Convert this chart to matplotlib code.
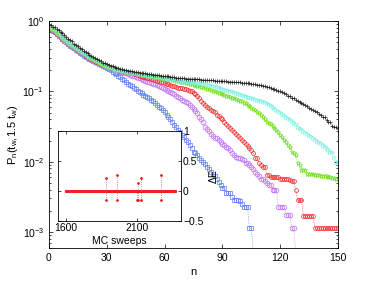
import numpy as np
import matplotlib
matplotlib.use("Agg")
import matplotlib.pyplot as plt

plt.rcParams['font.family'] = ['Liberation Sans', 'DejaVu Sans']
plt.rcParams['mathtext.fontset'] = 'custom'
plt.rcParams['mathtext.rm'] = 'Liberation Sans'
plt.rcParams['mathtext.it'] = 'Liberation Sans'

# -- main panel data: log10 P_n, one value per n = 0, 1, 2, ... -- #
log_black = [
    -0.05, -0.06, -0.08, -0.09, -0.11, -0.12,
    -0.15, -0.17, -0.20, -0.22, -0.25,
    -0.27, -0.29, -0.32, -0.34, -0.36,
    -0.38, -0.40, -0.42, -0.44, -0.46,
    -0.48, -0.49, -0.51, -0.53, -0.545,
    -0.56, -0.57, -0.59, -0.60, -0.615,
    -0.625, -0.635, -0.645, -0.655, -0.665,
    -0.672, -0.68, -0.687, -0.694, -0.70,
    -0.705, -0.71, -0.715, -0.72, -0.725,
    -0.73, -0.733, -0.737, -0.741, -0.745,
    -0.749, -0.753, -0.757, -0.761, -0.765,
    -0.769, -0.772, -0.775, -0.778, -0.78,
    -0.784, -0.788, -0.792, -0.796, -0.80,
    -0.803, -0.806, -0.809, -0.812, -0.815,
    -0.817, -0.819, -0.821, -0.823, -0.825,
    -0.827, -0.829, -0.831, -0.833, -0.835,
    -0.837, -0.839, -0.841, -0.843, -0.845,
    -0.847, -0.849, -0.851, -0.853, -0.855,
    -0.857, -0.859, -0.861, -0.863, -0.865,
    -0.867, -0.869, -0.871, -0.873, -0.875,
    -0.878, -0.88, -0.883, -0.886, -0.89,
    -0.895, -0.90, -0.905, -0.91, -0.915,
    -0.92, -0.93, -0.935, -0.94, -0.95,
    -0.96, -0.97, -0.98, -0.99, -1.0,
    -1.01, -1.03, -1.04, -1.06, -1.07,
    -1.09, -1.10, -1.12, -1.13, -1.15,
    -1.17, -1.18, -1.20, -1.21, -1.23,
    -1.25, -1.27, -1.28, -1.30, -1.32,
    -1.34, -1.37, -1.37, -1.41, -1.44,
    -1.44, -1.49, -1.51, -1.51, -1.56,
]

log_cyan = [
    -0.07, -0.09, -0.11, -0.13, -0.15, -0.18,
    -0.20, -0.23, -0.25, -0.28, -0.30,
    -0.32, -0.34, -0.36, -0.38, -0.40,
    -0.42, -0.44, -0.46, -0.475, -0.49,
    -0.505, -0.52, -0.535, -0.55, -0.565,
    -0.58, -0.595, -0.61, -0.625, -0.64,
    -0.65, -0.66, -0.67, -0.68, -0.69,
    -0.697, -0.703, -0.71, -0.715, -0.72,
    -0.725, -0.73, -0.735, -0.74, -0.745,
    -0.75, -0.755, -0.76, -0.765, -0.77,
    -0.774, -0.778, -0.782, -0.786, -0.79,
    -0.794, -0.798, -0.802, -0.806, -0.81,
    -0.814, -0.818, -0.822, -0.826, -0.83,
    -0.834, -0.838, -0.842, -0.846, -0.85,
    -0.854, -0.858, -0.862, -0.866, -0.87,
    -0.874, -0.878, -0.882, -0.886, -0.89,
    -0.896, -0.902, -0.908, -0.914, -0.92,
    -0.928, -0.936, -0.944, -0.952, -0.96,
    -0.968, -0.976, -0.984, -0.992, -1.0,
    -1.01, -1.02, -1.03, -1.04, -1.05,
    -1.058, -1.066, -1.074, -1.082, -1.09,
    -1.10, -1.11, -1.12, -1.125, -1.13,
    -1.14, -1.155, -1.17, -1.185, -1.20,
    -1.22, -1.24, -1.26, -1.28, -1.30,
    -1.32, -1.34, -1.36, -1.38, -1.40,
    -1.42, -1.45, -1.47, -1.50, -1.52,
    -1.54, -1.56, -1.58, -1.60, -1.62,
    -1.64, -1.66, -1.68, -1.70, -1.72,
    -1.74, -1.76, -1.78, -1.80, -1.83,
    -1.86, -1.86, -1.93, -2.0, -2.0,
]

log_green = [
    -0.08, -0.10, -0.12, -0.14, -0.16, -0.19,
    -0.21, -0.24, -0.26, -0.29, -0.31,
    -0.33, -0.35, -0.37, -0.39, -0.41,
    -0.43, -0.45, -0.465, -0.48, -0.50,
    -0.515, -0.53, -0.545, -0.56, -0.575,
    -0.59, -0.605, -0.62, -0.63, -0.64,
    -0.65, -0.66, -0.67, -0.68, -0.69,
    -0.697, -0.703, -0.71, -0.715, -0.72,
    -0.725, -0.73, -0.735, -0.74, -0.745,
    -0.75, -0.754, -0.758, -0.762, -0.766,
    -0.77, -0.775, -0.78, -0.785, -0.79,
    -0.795, -0.80, -0.805, -0.81, -0.815,
    -0.82, -0.825, -0.83, -0.836, -0.842,
    -0.848, -0.854, -0.86, -0.866, -0.872,
    -0.878, -0.884, -0.89, -0.897, -0.904,
    -0.911, -0.918, -0.925, -0.932, -0.94,
    -0.95, -0.96, -0.97, -0.98, -0.99,
    -1.0, -1.01, -1.02, -1.03, -1.04,
    -1.05, -1.06, -1.07, -1.08, -1.09,
    -1.10, -1.11, -1.12, -1.13, -1.14,
    -1.16, -1.17, -1.19, -1.21, -1.23,
    -1.25, -1.27, -1.29, -1.31, -1.34,
    -1.37, -1.40, -1.43, -1.45, -1.46,
    -1.49, -1.52, -1.55, -1.58, -1.62,
    -1.65, -1.69, -1.72, -1.76, -1.79,
    -1.86, -1.88, -1.90, -2.02, -2.05,
    -2.12, -2.12, -2.12, -2.17, -2.17,
    -2.18, -2.18, -2.19, -2.19, -2.19,
    -2.20, -2.20, -2.21, -2.21, -2.22,
    -2.22, -2.23, -2.23, -2.24, -2.24,
]

log_red = [
    -0.09, -0.11, -0.13, -0.15, -0.18, -0.20,
    -0.22, -0.25, -0.27, -0.30, -0.32,
    -0.34, -0.36, -0.38, -0.40, -0.42,
    -0.44, -0.46, -0.475, -0.49, -0.51,
    -0.525, -0.54, -0.555, -0.57, -0.585,
    -0.60, -0.61, -0.62, -0.63, -0.64,
    -0.65, -0.66, -0.67, -0.68, -0.69,
    -0.70, -0.705, -0.71, -0.72, -0.725,
    -0.73, -0.74, -0.745, -0.75, -0.76,
    -0.765, -0.775, -0.78, -0.79, -0.80,
    -0.81, -0.815, -0.825, -0.83, -0.84,
    -0.85, -0.855, -0.865, -0.87, -0.88,
    -0.89, -0.90, -0.91, -0.92, -0.93,
    -0.94, -0.945, -0.95, -0.955, -0.96,
    -0.97, -0.98, -0.99, -1.0, -1.02,
    -1.04, -1.07, -1.10, -1.13, -1.16,
    -1.19, -1.22, -1.24, -1.26, -1.28,
    -1.30, -1.33, -1.35, -1.38, -1.40,
    -1.43, -1.46, -1.49, -1.52, -1.55,
    -1.58, -1.61, -1.64, -1.66, -1.69,
    -1.72, -1.75, -1.78, -1.81, -1.84,
    -1.88, -1.95, -1.95, -2.02, -2.05,
    -2.07, -2.07, -2.19, -2.19, -2.22,
    -2.22, -2.22, -2.22, -2.22, -2.24,
    -2.24, -2.24, -2.24, -2.24, -2.26,
    -2.28, -2.28, -2.40, -2.55, -2.55,
    -2.55, -2.77, -2.77, -2.77, -2.77,
    -2.77, -2.77, -2.95, -2.95, -2.95,
    -2.95, -2.95, -2.95, -2.95, -2.95,
    -2.95, -2.95, -2.95, -2.95, -2.95,
]

log_purple = [
    -0.09, -0.11, -0.13, -0.16, -0.18, -0.20,
    -0.23, -0.25, -0.28, -0.30, -0.32,
    -0.34, -0.36, -0.38, -0.40, -0.42,
    -0.44, -0.46, -0.48, -0.495, -0.51,
    -0.525, -0.54, -0.555, -0.57, -0.585,
    -0.60, -0.61, -0.62, -0.635, -0.645,
    -0.655, -0.665, -0.675, -0.685, -0.695,
    -0.705, -0.715, -0.725, -0.735, -0.745,
    -0.755, -0.765, -0.775, -0.785, -0.795,
    -0.805, -0.815, -0.825, -0.835, -0.85,
    -0.86, -0.87, -0.88, -0.89, -0.90,
    -0.915, -0.93, -0.94, -0.955, -0.97,
    -0.985, -1.0, -1.01, -1.025, -1.04,
    -1.06, -1.08, -1.10, -1.12, -1.13,
    -1.15, -1.17, -1.20, -1.22, -1.25,
    -1.28, -1.31, -1.36, -1.40, -1.44,
    -1.50, -1.53, -1.56, -1.60, -1.63,
    -1.66, -1.67, -1.69, -1.72, -1.75,
    -1.77, -1.79, -1.81, -1.84, -1.87,
    -1.90, -1.93, -1.95, -1.95, -1.96,
    -1.98, -2.02, -2.02, -2.05, -2.07,
    -2.10, -2.14, -2.17, -2.20, -2.24,
    -2.24, -2.27, -2.30, -2.33, -2.33,
    -2.40, -2.40, -2.40, -2.64, -2.64,
    -2.64, -2.64, -2.76, -2.76, -2.76,
    -2.95, -2.95, -3.3, -3.3, -3.3,
]

log_blue = [
    -0.09, -0.11, -0.14, -0.16, -0.18, -0.21,
    -0.23, -0.26, -0.28, -0.30, -0.33,
    -0.35, -0.37, -0.39, -0.41, -0.43,
    -0.45, -0.47, -0.49, -0.505, -0.52,
    -0.535, -0.55, -0.565, -0.58, -0.595,
    -0.61, -0.62, -0.635, -0.65, -0.665,
    -0.68, -0.70, -0.72, -0.735, -0.75,
    -0.775, -0.80, -0.82, -0.845, -0.87,
    -0.89, -0.91, -0.93, -0.95, -0.97,
    -0.99, -1.01, -1.03, -1.045, -1.06,
    -1.08, -1.10, -1.12, -1.14, -1.17,
    -1.19, -1.22, -1.24, -1.27, -1.30,
    -1.33, -1.37, -1.40, -1.44, -1.48,
    -1.51, -1.55, -1.58, -1.62, -1.65,
    -1.69, -1.72, -1.76, -1.81, -1.86,
    -1.88, -1.91, -1.95, -1.97, -2.0,
    -2.03, -2.07, -2.10, -2.14, -2.17,
    -2.20, -2.25, -2.29, -2.33, -2.38,
    -2.38, -2.45, -2.45, -2.45, -2.50,
    -2.54, -2.54, -2.54, -2.56, -2.60,
    -2.64, -2.64, -2.64, -2.95, -2.95,
    -3.3, -3.3,
]

# (values, color, marker, markersize), drawn bottom to top
series = [
    (log_blue, '#5a7cf0', 's', 2.6),
    (log_purple, '#c070f0', 'o', 3.4),
    (log_red, '#f02828', 'o', 2.8),
    (log_green, '#70e020', '*', 3.6),
    (log_cyan, '#7ff0e0', '>', 2.8),
    (log_black, '#202020', '+', 3.4),
]

# -- inset data -- #
sweeps = np.arange(1600, 2380, 10)
dE_base = np.zeros(len(sweeps))
spike_x = [1882, 1957, 2098, 2109, 2126, 2269]
spike_hi = [0.21, 0.26, 0.0, 0.14, 0.21, 0.26]
spike_lo = [-0.15, -0.15, -0.15, -0.15, -0.15, -0.15]

fig = plt.figure(figsize=(3.74, 2.81), dpi=100)
ax = fig.add_axes([0.131, 0.117, 0.773, 0.808])

for vals, col, mk, ms in series:
    n = np.arange(len(vals))
    ax.plot(n, 10 ** np.array(vals), ls=':', lw=0.5, color=col, marker=mk,
            ms=ms, mfc='none', mec=col, mew=0.5)

ax.set_yscale('log')
ax.set_xlim(0, 150)
ax.set_ylim(10 ** -3.23, 1)
ax.set_xticks([0, 30, 60, 90, 120, 150])
ax.tick_params(which='both', direction='in', top=True, right=True,
               labelsize=7.5)
ax.tick_params(which='major', length=3, width=0.5)
ax.tick_params(which='minor', length=1.5, width=0.5)
for s in ax.spines.values():
    s.set_linewidth(0.6)
ax.set_xlabel('n', fontsize=8, labelpad=3)
ax.set_ylabel('P$_n$(t$_w$,1.5 t$_w$)', fontsize=8, labelpad=2)

# inset
axi = fig.add_axes([0.155, 0.2135, 0.329, 0.3205])
axi.plot(sweeps, dE_base, color='#f02020', lw=1.8, marker='.', ms=2.5)
axi.vlines(spike_x, spike_lo, spike_hi, colors='gray', linestyles=':',
           lw=0.6)
axi.plot(spike_x, spike_hi, ls='none', marker='.', ms=2, color='#f02020')
axi.plot(spike_x, spike_lo, ls='none', marker='.', ms=2, color='#f02020')
axi.set_xlim(1544, 2410)
axi.set_ylim(-0.5, 1)
axi.set_xticks([1600, 2100])
axi.set_yticks([-0.5, 0, 0.5, 1])
axi.set_yticklabels(['\u22120.5', '0', '0.5', '1'])
axi.tick_params(direction='in', top=True, right=True, left=True,
                labelleft=False, labelright=True, labelsize=7.5,
                length=2, width=0.5, pad=1.5)
for s in axi.spines.values():
    s.set_linewidth(0.6)
axi.set_xlabel('MC sweeps', fontsize=7.5, labelpad=2)
axi.yaxis.set_label_position('right')
axi.set_ylabel('\u0394E', fontsize=7.5, labelpad=4)

fig.savefig('out.png', dpi=100)
